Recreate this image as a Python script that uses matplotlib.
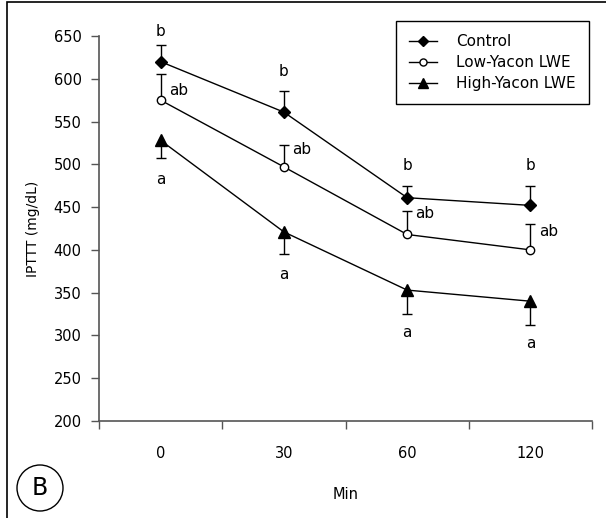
import matplotlib
matplotlib.use("Agg")
import matplotlib.pyplot as plt
from matplotlib.patches import Rectangle, Ellipse
import numpy as np

plt.rcParams["font.family"] = ["DejaVu Sans"]

# Data (IPTT, mg/dL)
minutes = ["0", "30", "60", "120"]
control = [620, 561, 461, 452]
control_err = [20, 25, 14, 23]
low_yacon = [575, 497, 418, 400]
low_err = [31, 26, 28, 30]
high_yacon = [528, 421, 353, 340]
high_err = [21, 26, 28, 28]

# significance letters and where they sit (y in mg/dL)
control_letters = ["b", "b", "b", "b"]
control_letter_y = [655, 608, 499, 499]
low_letters = ["ab", "ab", "ab", "ab"]
low_letter_y = [586, 517, 442, 422]
high_letters = ["a", "a", "a", "a"]
high_letter_y = [482, 371, 303, 290]

x = np.arange(len(minutes))

fig = plt.figure(figsize=(6.06, 5.18), dpi=100)
ax = fig.add_axes([0.1634, 0.1873, 0.8135, 0.7432])

# outer frame of the panel
fig.patches.append(Rectangle((7 / 606, -0.05), 1.2, 1.05 - 2 / 518, transform=fig.transFigure,
                             fill=False, edgecolor="black", linewidth=1.2))


def one_sided(xv, yv, err, up, color="black"):
    tips = np.array(yv) + (np.array(err) if up else -np.array(err))
    ax.vlines(xv, yv, tips, color=color, linewidth=1, zorder=2)
    ax.plot(xv, tips, linestyle="none", marker="_", markersize=7, markeredgewidth=1,
            color=color, zorder=2)


one_sided(x, control, control_err, True)
one_sided(x, low_yacon, low_err, True)
one_sided(x, high_yacon, high_err, False)

ax.plot(x, control, color="black", linewidth=1, marker="D", markersize=6.5,
        markerfacecolor="black", zorder=3, label="Control")
ax.plot(x, low_yacon, color="black", linewidth=1, marker="o", markersize=6,
        markerfacecolor="white", markeredgewidth=1, zorder=3, label="Low-Yacon LWE")
ax.plot(x, high_yacon, color="black", linewidth=1, marker="^", markersize=8.5,
        markerfacecolor="black", zorder=3, label="High-Yacon LWE")

for xi, s, yy in zip(x, control_letters, control_letter_y):
    ax.text(xi, yy, s, ha="center", va="center", fontsize=11)
for xi, s, yy in zip(x, low_letters, low_letter_y):
    ax.annotate(s, (xi, yy), xytext=(6, 0), textcoords="offset points",
                ha="left", va="center", fontsize=11)
for xi, s, yy in zip(x, high_letters, high_letter_y):
    ax.text(xi, yy, s, ha="center", va="center", fontsize=11)

ax.set_xlim(-0.5, len(minutes) - 0.5)
ax.set_ylim(200, 650)
ax.set_yticks(np.arange(200, 651, 50))
ax.set_xticks(np.arange(-0.5, len(minutes), 1.0))
ax.set_xticklabels([])
ax.set_xticks(x, minor=True)
ax.set_xticklabels(minutes, minor=True)
ax.tick_params(axis="x", which="major", direction="out", length=5.5, width=1, color="#555555")
ax.tick_params(axis="x", which="minor", length=0, pad=18, labelsize=10.5)
ax.tick_params(axis="y", direction="out", length=5.5, width=1, color="#555555", pad=7, labelsize=10.5)

for side in ["top", "right"]:
    ax.spines[side].set_visible(False)
for side in ["left", "bottom"]:
    ax.spines[side].set_color("#555555")
    ax.spines[side].set_linewidth(1.2)

ax.set_ylabel("IPTTT (mg/dL)", fontsize=10, labelpad=10)
ax.set_xlabel("Min", fontsize=10.5, labelpad=19)

leg = ax.legend(loc="upper right", bbox_to_anchor=(0.994, 1.039), frameon=True, fancybox=False,
                edgecolor="black", framealpha=1, fontsize=11, handlelength=1.8,
                handletextpad=1.3, labelspacing=0.4, borderpad=0.85, borderaxespad=0,
                markerscale=0.85)
leg.get_frame().set_linewidth(1)

# panel letter
fig.patches.append(Ellipse((40 / 606, 1 - 488 / 518), 46 / 606, 46 / 518, transform=fig.transFigure,
                           fill=False, edgecolor="black", linewidth=1))
fig.text(40 / 606, 1 - 488 / 518, "B", ha="center", va="center", fontsize=17)

fig.savefig("out.png", dpi=100)
